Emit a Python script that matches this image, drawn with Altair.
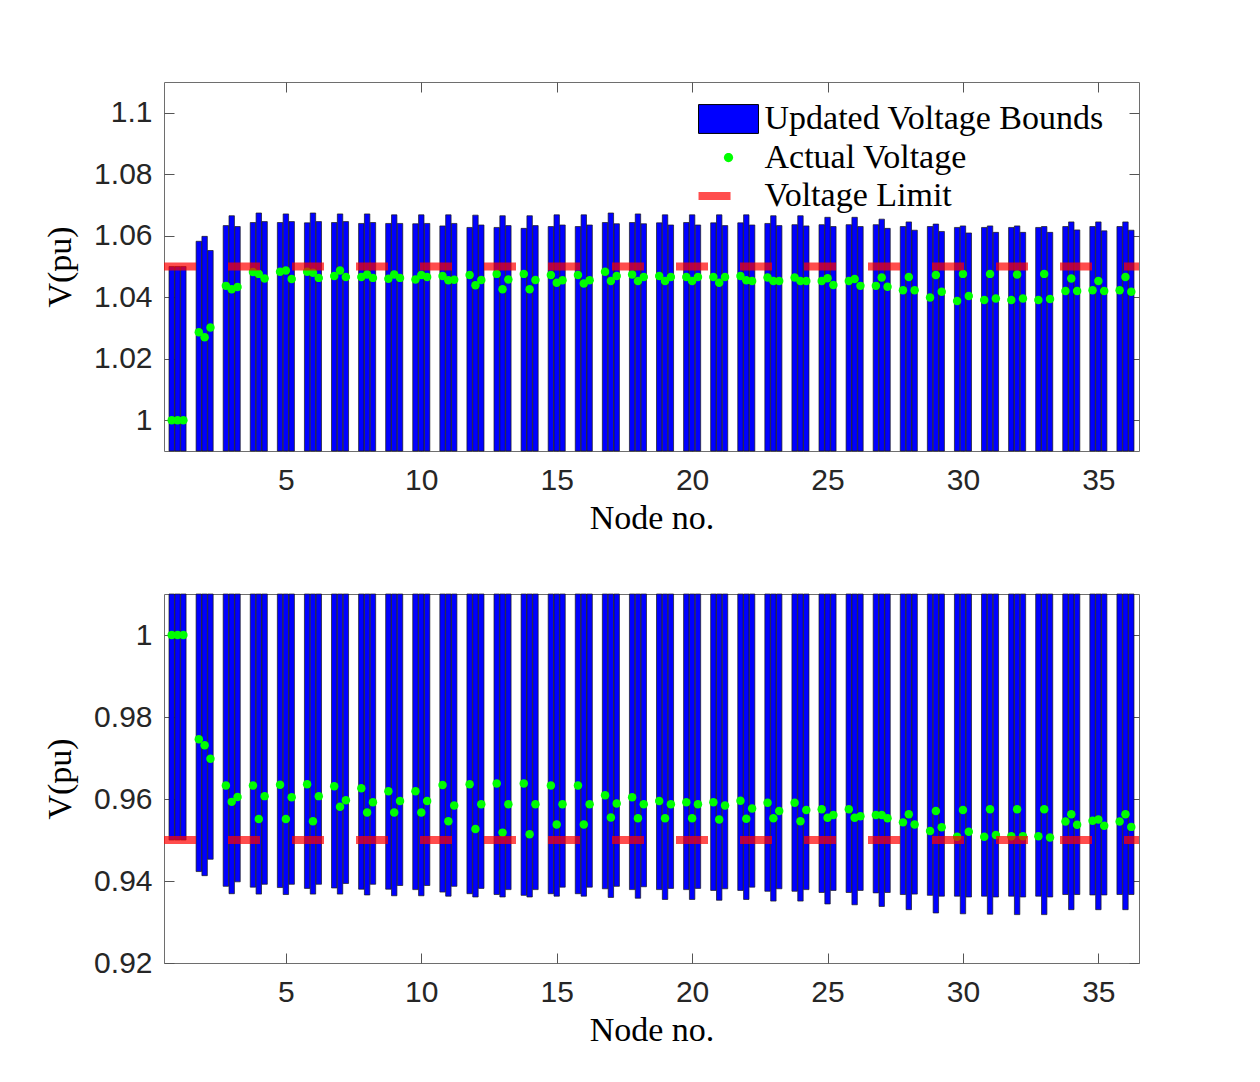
import altair as alt
import pandas as pd

nodes = list(range(1, 37))

# ---------------- top panel: upper voltage bounds (phases a, b, c) ----------------
ub_a = [1.050, 1.0582, 1.0633, 1.0643, 1.0643, 1.0642, 1.0643, 1.0640, 1.0640, 1.0639,
        1.0632, 1.0627, 1.0627, 1.0624, 1.0630, 1.0630, 1.0643, 1.0643, 1.0642, 1.0643,
        1.0642, 1.0642, 1.0640, 1.0636, 1.0636, 1.0636, 1.0636, 1.0630, 1.0630, 1.0627,
        1.0627, 1.0627, 1.0627, 1.0630, 1.0630, 1.0630]
ub_b = [1.050, 1.0598, 1.0665, 1.0674, 1.0671, 1.0674, 1.0671, 1.0671, 1.0668, 1.0668,
        1.0668, 1.0667, 1.0665, 1.0665, 1.0668, 1.0668, 1.0674, 1.0671, 1.0668, 1.0668,
        1.0668, 1.0668, 1.0665, 1.0665, 1.0660, 1.0660, 1.0654, 1.0645, 1.0638, 1.0632,
        1.0632, 1.0632, 1.0630, 1.0645, 1.0645, 1.0645]
ub_c = [1.050, 1.0552, 1.0630, 1.0646, 1.0646, 1.0646, 1.0646, 1.0643, 1.0640, 1.0640,
        1.0640, 1.0635, 1.0633, 1.0633, 1.0635, 1.0635, 1.0639, 1.0639, 1.0635, 1.0635,
        1.0633, 1.0635, 1.0633, 1.0632, 1.0630, 1.0630, 1.0624, 1.0618, 1.0614, 1.0609,
        1.0611, 1.0611, 1.0611, 1.0619, 1.0616, 1.0618]

# actual voltages, top panel
vt_a = [1.0, 1.0286, 1.0437, 1.0482, 1.0483, 1.0483, 1.0469, 1.0466, 1.0460, 1.0458,
        1.0469, 1.0472, 1.0476, 1.0476, 1.0472, 1.0472, 1.0483, 1.0474, 1.0469, 1.0466,
        1.0466, 1.0469, 1.0464, 1.0464, 1.0453, 1.0453, 1.0437, 1.0423, 1.0399, 1.0388,
        1.0391, 1.0391, 1.0391, 1.0420, 1.0423, 1.0423]
vt_b = [1.0, 1.0270, 1.0426, 1.0476, 1.0487, 1.0480, 1.0487, 1.0474, 1.0474, 1.0472,
        1.0455, 1.0439, 1.0426, 1.0426, 1.0447, 1.0445, 1.0453, 1.0453, 1.0453, 1.0453,
        1.0447, 1.0455, 1.0453, 1.0453, 1.0462, 1.0459, 1.0464, 1.0466, 1.0472, 1.0476,
        1.0476, 1.0474, 1.0476, 1.0461, 1.0453, 1.0466]
vt_c = [1.0, 1.0302, 1.0433, 1.0461, 1.0459, 1.0463, 1.0466, 1.0463, 1.0463, 1.0466,
        1.0457, 1.0456, 1.0458, 1.0456, 1.0455, 1.0455, 1.0469, 1.0466, 1.0466, 1.0466,
        1.0466, 1.0453, 1.0453, 1.0453, 1.0440, 1.0437, 1.0434, 1.0423, 1.0418, 1.0404,
        1.0396, 1.0396, 1.0394, 1.0420, 1.0420, 1.0418]

# ---------------- bottom panel: lower voltage bounds ----------------
lb_a = [0.950, 0.9423, 0.9387, 0.9385, 0.9384, 0.9382, 0.9383, 0.9380, 0.9380, 0.9379,
        0.9373, 0.9369, 0.9367, 0.9365, 0.9369, 0.9369, 0.9381, 0.9379, 0.9379, 0.9379,
        0.9377, 0.9377, 0.9375, 0.9375, 0.9372, 0.9372, 0.9371, 0.9367, 0.9365, 0.9363,
        0.9363, 0.9363, 0.9363, 0.9367, 0.9366, 0.9367]
lb_b = [0.950, 0.9413, 0.9369, 0.9368, 0.9367, 0.9368, 0.9368, 0.9366, 0.9364, 0.9364,
        0.9363, 0.9361, 0.9361, 0.9361, 0.9363, 0.9363, 0.9360, 0.9358, 0.9355, 0.9355,
        0.9353, 0.9355, 0.9351, 0.9351, 0.9344, 0.9342, 0.9338, 0.9330, 0.9322, 0.9320,
        0.9319, 0.9318, 0.9318, 0.9330, 0.9330, 0.9330]
lb_c = [0.950, 0.9453, 0.9398, 0.9392, 0.9392, 0.9392, 0.9394, 0.9392, 0.9389, 0.9389,
        0.9387, 0.9382, 0.9379, 0.9379, 0.9385, 0.9385, 0.9387, 0.9386, 0.9382, 0.9382,
        0.9381, 0.9385, 0.9381, 0.9379, 0.9377, 0.9377, 0.9372, 0.9368, 0.9363, 0.9361,
        0.9361, 0.9361, 0.9361, 0.9367, 0.9366, 0.9367]

vb_a = [1.0, 0.9746, 0.9633, 0.9633, 0.9635, 0.9636, 0.9631, 0.9626, 0.9619, 0.9619,
        0.9634, 0.9636, 0.9638, 0.9638, 0.9633, 0.9633, 0.9609, 0.9604, 0.9595, 0.9592,
        0.9592, 0.9596, 0.9591, 0.9591, 0.9575, 0.9575, 0.9561, 0.9543, 0.9522, 0.9508,
        0.9508, 0.9509, 0.9509, 0.9545, 0.9547, 0.9545]
vb_b = [1.0, 0.9731, 0.9593, 0.9551, 0.9551, 0.9546, 0.9581, 0.9567, 0.9567, 0.9567,
        0.9546, 0.9527, 0.9518, 0.9514, 0.9538, 0.9538, 0.9555, 0.9553, 0.9553, 0.9553,
        0.9550, 0.9552, 0.9553, 0.9546, 0.9554, 0.9554, 0.9561, 0.9563, 0.9571, 0.9573,
        0.9575, 0.9575, 0.9575, 0.9563, 0.9550, 0.9563]
vb_c = [1.0, 0.9698, 0.9605, 0.9607, 0.9604, 0.9607, 0.9597, 0.9592, 0.9595, 0.9595,
        0.9584, 0.9587, 0.9587, 0.9587, 0.9587, 0.9587, 0.9589, 0.9587, 0.9587, 0.9587,
        0.9584, 0.9577, 0.9571, 0.9573, 0.9561, 0.9558, 0.9553, 0.9538, 0.9531, 0.9520,
        0.9512, 0.9509, 0.9506, 0.9537, 0.9535, 0.9532]

upper_limit = 1.05
lower_limit = 0.95
x_domain = [0.5, 36.5]
top_domain = [0.99, 1.11]
bottom_domain = [0.92, 1.01]
top_ticks = [1.0, 1.02, 1.04, 1.06, 1.08, 1.1]
bottom_ticks = [0.92, 0.94, 0.96, 0.98, 1.0]
x_ticks = [5, 10, 15, 20, 25, 30, 35]
legend_labels = ["Updated Voltage Bounds", "Actual Voltage", "Voltage Limit"]

phase_offset = [-0.215, 0.0, 0.215]
bar_half = 0.1


def bar_frame(phases, base):
    rows = []
    for off, vals in zip(phase_offset, phases):
        for n, v in zip(nodes, vals):
            rows.append({"node": n, "x0": n + off - bar_half, "x1": n + off + bar_half,
                         "v": v, "base": base})
    return pd.DataFrame(rows)


def point_frame(phases):
    rows = []
    for off, vals in zip(phase_offset, phases):
        for n, v in zip(nodes, vals):
            rows.append({"node": n, "xc": n + off, "v": v})
    return pd.DataFrame(rows)


SANS = "Liberation Sans"
SERIF = "Liberation Serif"
TICK_COLOR = "#555555"

# legend symbols (custom paths, unit box scaled by sqrt(size)/2)
rect_path = "M-1.62,-0.78H1.62V0.78H-1.62Z"
dot_path = "M0,-0.25A0.25,0.25 0 1,1 0,0.25A0.25,0.25 0 1,1 0,-0.25Z"
dash_path = "M-1.62,-0.22H0.11V0.22H-1.62Z"


def panel(bars, pts, limit, ydom, yticks, with_legend):
    xs = alt.Scale(domain=x_domain, nice=False, zero=False)
    ys = alt.Scale(domain=ydom, nice=False, zero=False)
    common = dict(offset=-10, tickSize=10, domain=False, grid=False,
                  tickColor=TICK_COLOR, tickWidth=1)
    ax_bottom = alt.Axis(orient="bottom", values=x_ticks, title="Node no.",
                         labelPadding=14, titlePadding=6, **common)
    ax_left = alt.Axis(orient="left", values=yticks, format="~g", title="V(pu)",
                       labelPadding=12, titlePadding=16, **common)
    ax_top = alt.Axis(orient="top", values=x_ticks, labels=False, title=None, **common)
    ax_right = alt.Axis(orient="right", values=yticks, labels=False, title=None, **common)

    bar_layer = alt.Chart(bars).mark_bar(
        color="#0000FF", stroke="#1a1a1a", strokeWidth=0.7
    ).encode(
        x=alt.X("x0:Q", scale=xs, axis=ax_bottom),
        x2="x1:Q",
        y=alt.Y("v:Q", scale=ys, axis=ax_left),
        y2="base:Q",
    )
    pt_layer = alt.Chart(pts).mark_circle(color="#00FF00", size=72, opacity=1).encode(
        x=alt.X("xc:Q", scale=xs, axis=ax_top),
        y=alt.Y("v:Q", scale=ys, axis=ax_right),
    )
    lim_df = pd.DataFrame({"lim": [limit], "xs": [x_domain[0]], "xe": [x_domain[1]]})
    rule_layer = alt.Chart(lim_df).mark_rule(
        color="#FF0000", opacity=0.7, strokeWidth=8, strokeDash=[32, 32]
    ).encode(
        x=alt.X("xs:Q", scale=xs, axis=None),
        x2="xe:Q",
        y=alt.Y("lim:Q", scale=ys, axis=None),
    )

    layers = [bar_layer, pt_layer, rule_layer]
    if with_legend:
        leg = alt.Legend(
            title=None, orient="none", legendX=545.5, legendY=18, padding=0,
            symbolSize=1369, labelFont=SERIF, labelFontSize=34, labelColor="black",
            labelLimit=600, labelOffset=17, rowPadding=2.5, symbolStrokeWidth=1,
        )
        leg_df = pd.DataFrame({"series": legend_labels, "xc": [1, 1, 1], "v": [ydom[0]] * 3})
        leg_layer = alt.Chart(leg_df).transform_filter(
            alt.datum.xc > 100
        ).mark_point(filled=True, opacity=1).encode(
            x=alt.X("xc:Q", scale=xs, axis=None),
            y=alt.Y("v:Q", scale=ys, axis=None),
            color=alt.Color("series:N", scale=alt.Scale(
                domain=legend_labels, range=["#0000FF", "#00FF00", "#FF4D4D"]), legend=leg),
            shape=alt.Shape("series:N", scale=alt.Scale(
                domain=legend_labels, range=[rect_path, dot_path, dash_path]), legend=leg),
            stroke=alt.Stroke("series:N", scale=alt.Scale(
                domain=legend_labels, range=["#000000", "transparent", "transparent"]), legend=leg),
        )
        layers.append(leg_layer)

    return alt.layer(*layers).resolve_axis(x="independent", y="independent").properties(
        width=975, height=369
    )


top = panel(bar_frame([ub_a, ub_b, ub_c], top_domain[0]),
            point_frame([vt_a, vt_b, vt_c]), upper_limit, top_domain, top_ticks, True)
bottom = panel(bar_frame([lb_a, lb_b, lb_c], bottom_domain[1]),
               point_frame([vb_a, vb_b, vb_c]), lower_limit, bottom_domain, bottom_ticks, False)

chart = alt.vconcat(top, bottom, spacing=57).properties(
    padding={"left": 35, "top": 73, "right": 10, "bottom": 10},
    background="white",
).configure_view(
    stroke="#6e6e6e", strokeWidth=1
).configure_axis(
    labelFont=SANS, labelFontSize=30, labelColor="#262626",
    titleFont=SERIF, titleFontSize=34, titleFontWeight="normal", titleColor="black",
)

chart.save("out.html", embed_options={"renderer": "svg", "actions": False})
